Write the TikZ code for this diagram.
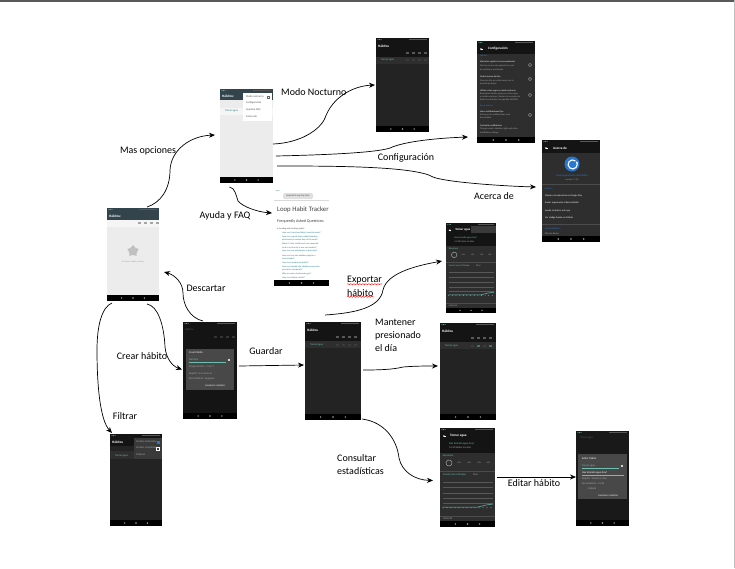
\documentclass[tikz,border=0pt]{standalone}
\usepackage{fontspec}
\setmainfont{Carlito}
\usepackage{tikz}
\usetikzlibrary{arrows.meta,calc,shapes.geometric,decorations.pathmorphing}
\definecolor{appSlate}{RGB}{52, 68, 76}
\definecolor{lightBody}{RGB}{236, 236, 236}
\definecolor{darkBody}{RGB}{35, 35, 35}
\definecolor{darkBar}{RGB}{20, 20, 20}
\definecolor{panelGrey}{RGB}{46, 46, 46}
\definecolor{menuGrey}{RGB}{58, 58, 58}
\definecolor{dialogGrey}{RGB}{72, 72, 72}
\definecolor{accentTeal}{RGB}{110, 190, 175}
\definecolor{accentBlue}{RGB}{40, 120, 210}
\definecolor{linkTeal}{RGB}{30, 120, 130}
\definecolor{softGrey}{RGB}{165, 165, 165}
\definecolor{dimGrey}{RGB}{88, 88, 88}
\tikzset{
  screen/.style={anchor=north west, inner sep=0pt, outer sep=0pt},
  uitext/.style={font=\fontsize{2.7}{3}\selectfont, inner sep=0pt, anchor=west},
  uititle/.style={font=\fontsize{3.4}{4}\selectfont\bfseries, inner sep=0pt, anchor=west, text=white},
  flow/.style={-{Stealth[length=6pt,width=5pt]}, line width=0.7pt, black},
  backarrow/.style={-{Stealth[length=1.5pt,width=2pt]}, white, line width=0.4pt},
  caption/.style={font=\fontsize{10}{13}\selectfont, inner sep=0pt, align=left},
  spell/.style={red, line width=0.4pt, decorate, decoration={snake, amplitude=0.6pt, segment length=3pt}}
}
\newcommand{\phonebase}[4]{%
  \node[screen, fill=#4, minimum width=#2pt, minimum height=#3pt] (#1) at (0,0) {};
  \fill[black] (0,{#3-6}) rectangle (#2,#3);
  \foreach \k in {0.28,0.5,0.72} \fill[softGrey] ({#2*\k},{#3-3}) circle (0.8);
}
\newcommand{\statusline}[1]{%
  \foreach \k in {2,3.5,5} \fill[accentTeal] (\k,1.6) circle (0.5);
  \fill[dimGrey] ({#1-20},1.1) rectangle ({#1-2},2.1);
}
\newcommand{\rowmarks}[3]{%
  \foreach \m in {0,1,2,3} \fill[#3] ({#1+\m*6},{#2-1}) rectangle ({#1+\m*6+2.5},{#2+1});
}
\begin{document}
\begin{tikzpicture}[x=1pt,y=-1pt]
  \useasboundingbox (0,0) rectangle (735,568);
  \fill[white] (0,0) rectangle (735,568);
  \fill[black!65] (0,0) rectangle (735,2);
  \fill[black!25] (734,0) rectangle (735,568);

  % 1. Empty list
  \begin{scope}[shift={(107,208)}]
  \phonebase{home}{52}{93}{lightBody}
  \fill[appSlate] (0,0) rectangle (52,12);
  \statusline{52}
  \fill[white!96!black] (0,12) rectangle (52,19);
  \node[uititle] (homeTitle) at (2,8) {Hábitos:};
  \rowmarks{31}{15}{softGrey}
  \node[star, star points=5, fill=softGrey!70, minimum size=12pt, inner sep=0pt] (homeStar) at (26,43) {};
  \node[uitext, anchor=center, text=softGrey, font=\fontsize{2.2}{3}\selectfont] (homeEmpty) at (26,54) {No tienes hábitos activos};
  \end{scope}

  % 2. Overflow menu
  \begin{scope}[shift={(220,89)}]
  \phonebase{menu}{53}{94}{lightBody}
  \fill[appSlate] (0,0) rectangle (53,11);
  \statusline{53}
  \fill[white!96!black] (0,19) rectangle (53,26);
  \node[uititle] (menuTitle) at (2,7) {Hábitos:};
  \node[uitext, text=linkTeal] (menuRow) at (5,22) {Tomar agua};
  \fill[white] (23,4) rectangle (52,32);
  \foreach \y/\t [count=\i] in {8/Modo nocturno,14/Configuración,21/Ayuda \& FAQ,28/Acerca de}
    \node[uitext, text=black!70] (menuItem\i) at (26,\y) {\t};
  \draw[black!60, line width=0.3pt] (47,7) rectangle (49.5,9.5);
  \end{scope}

  % 3. Help page
  \begin{scope}[shift={(274,189)}]
  \phonebase{web}{55}{97}{white}
  \foreach \k in {2,3.5,5} \fill[accentTeal] (\k,1.6) circle (0.5);
  \fill[black!12, rounded corners=1.5pt] (9,4) rectangle (39,10);
  \draw[black!15, line width=0.3pt] (0,11.5) -- (55,11.5);
  \node[uitext, text=black!70, font=\fontsize{2.4}{3}\selectfont] (webUrl) at (12,7) {loophabits.org/faq.html};
  \node[uitext, text=black!75, font=\fontsize{6.8}{7}\selectfont] (webTitle) at (3,21) {Loop Habit Tracker};
  \node[uitext, text=black!75, font=\fontsize{4.1}{5}\selectfont] (webHead) at (3,32) {Frequently Asked Questions};
  \node[uitext, text=black!70, font=\fontsize{2.2}{3}\selectfont] (webTopic) at (3,40) {• Creating and checking habits};
  \foreach \y/\t [count=\i] in {44/How can I track bad habits I want to break?,
      48/How can I specify that a habit should be,51/performed on certain days of the week?,
      55/What if I miss a habit and I am supposed,59/to do it on the day it was not checked?,
      62/How can I see checkmarks in past days?,67/How can I see the statistics page for a,
      70/certain habit?,74/How can I reorder the habits?,78/How can I disable the vibration every time,
      81/you click a checkmark?,85/Why are some checkmarks grey?,89/How can I delete a habit?}
    \node[uitext, text=linkTeal, font=\fontsize{2.2}{3}\selectfont] (webLine\i) at (8,\y) {\t};
  \end{scope}

  % 4. Night mode
  \begin{scope}[shift={(376,38)}]
  \phonebase{night}{53}{94}{darkBody}
  \fill[darkBar] (0,0) rectangle (53,19);
  \statusline{53}
  \fill[panelGrey] (0,19) rectangle (53,26);
  \node[uititle] (nightTitle) at (2,8) {Hábitos};
  \rowmarks{30}{15}{dimGrey}
  \rowmarks{30}{22}{panelGrey!70!dimGrey}
  \node[uitext, text=accentTeal] (nightRow) at (5,22) {Tomar agua};
  \end{scope}

  % 5. Settings
  \begin{scope}[shift={(477,41)}]
  \phonebase{config}{58}{102}{panelGrey}
  \fill[darkBar] (0,0) rectangle (58,13);
  \statusline{58}
  \draw[backarrow] (6,8) -- (3,8);
  \node[uititle] (configTitle) at (11,8) {Configuración};
  \foreach \y/\c/\t [count=\i] in {15/accentBlue/Interfaz,
      21/white/Marca los registros con una pulsación,25/softGrey/Marca con una sola pulsación en vez,29/softGrey/de mantener presionado,
      36/white/Orden inverso de días,40/softGrey/Muestra días en orden inverso en la,43/softGrey/pantalla principal,
      50/white/Utilizar color negro en modo nocturno,53/softGrey/Reemplaza fondos grises por color negro,56/softGrey/en modo nocturno. Reduce el consumo de,59/softGrey/batería en móviles con pantalla AMOLED,
      65/accentBlue/Recordatorios,
      71/white/Hacer notificaciones fijas,74/softGrey/Evita que las notificaciones sean,77/softGrey/descartadas,
      85/white/Customize notifications,88/softGrey/Change sound{,} vibration{,} light and other,92/softGrey/notification settings}
    \node[uitext, text=\c, font=\fontsize{2.3}{3}\selectfont] (configItem\i) at (3,\y) {\t};
  \foreach \y in {24,38,54,74} \draw[softGrey, line width=0.4pt] (53,\y) circle (1.6);
  \end{scope}

  % 6. About
  \begin{scope}[shift={(542,140)}]
  \phonebase{about}{58}{102}{panelGrey}
  \fill[darkBar] (0,0) rectangle (58,13);
  \statusline{58}
  \draw[backarrow] (6,8) -- (3,8);
  \node[uititle] (aboutTitle) at (11,8) {Acerca de};
  \fill[accentBlue] (30,24) circle (7.5);
  \draw[white, line width=1.1pt, -{Stealth[length=2pt,width=2.5pt]}] (33.5,21) arc (-50:-400:4.5);
  \node[uitext, anchor=center, text=accentBlue] (aboutName) at (30,36) {Loop Seguimiento de Hábitos};
  \node[uitext, anchor=center, text=softGrey, font=\fontsize{2.2}{3}\selectfont] (aboutVersion) at (30,40) {versión 1.7.10};
  \draw[black!70, line width=0.3pt] (0,44) -- (58,44) (0,84) -- (58,84);
  \foreach \y/\c/\t [count=\i] in {49/accentBlue/Enlaces,56/white/Valorar esta aplicación en Google Play,
      63/white/Enviar sugerencias al desarrollador,71/white/Ayude a traducir esta app,
      78/white/Ver código fuente en GitHub,89/accentBlue/Desarrolladores,94/softGrey/Álinson Xavier}
    \node[uitext, text=\c, font=\fontsize{2.4}{3}\selectfont] (aboutItem\i) at (3,\y) {\t};
  \end{scope}

  % 7. Statistics, top
  \begin{scope}[shift={(446,223)}, scale=0.91, transform shape]
  \phonebase{statsTop}{55}{99}{panelGrey}
  \fill[darkBar] (0,0) rectangle (55,25);
  \statusline{55}
  \draw[backarrow] (6,8) -- (3,8);
  \node[uititle] (topTitle) at (10,7.5) {Tomar agua};
  \fill[menuGrey] (27,3.5) rectangle (55,11);
  \node[uitext, text=accentTeal] (topAsk) at (9,16) {Has tomado agua hoy?};
  \node[uitext, text=softGrey] (topWhen) at (9,20) {14:30 todos los días};
  \node[uitext, text=accentTeal] (topSum) at (3,28) {Resumen};
  \draw[softGrey, line width=0.5pt] (9,35) circle (3);
  \foreach \x in {17,27,37,46} \node[uitext, text=softGrey, font=\fontsize{2.2}{3}\selectfont] (topNum\x) at (\x,35) {+0\%};
  \draw[black!70, line width=0.3pt] (0,43) -- (55,43) (0,88) -- (55,88);
  \node[uitext, text=accentTeal] (topForce) at (3,47) {Fuerza con el tiempo};
  \node[uitext, text=softGrey] (topMes) at (33,47) {Mes};
  \foreach \y in {54,59,65,70,75} \draw[dimGrey, line width=0.15pt] (3,\y) -- (53,\y);
  \draw[accentTeal, line width=0.5pt] (3,79) -- (38,79) -- (46,77) -- (53,76);
  \foreach \x in {3,7,...,51} \fill[accentTeal] (\x,79.5) circle (0.5);
  \node[uitext, text=softGrey] (topHist) at (3,91) {Historial};
  \end{scope}

  % 8. New habit dialog
  \begin{scope}[shift={(183,322)}]
  \phonebase{dialog}{54}{97}{darkBar}
  \statusline{54}
  \node[uitext, text=dimGrey] (dialogTitle) at (2,8) {Hábitos};
  \rowmarks{31}{15}{dimGrey!60!black}
  \fill[dialogGrey] (2.5,27) rectangle (51,68);
  \node[uitext, text=white] (dialogHead) at (6,31) {Crear hábito};
  \node[uitext, text=accentTeal] (dialogName) at (6,38) {Nombre};
  \draw[accentTeal, line width=0.2pt] (6,40) -- (43,40);
  \fill[white] (46,38) circle (1.2);
  \foreach \y/\t [count=\i] in {45/Pregunta (Has \ldots\ hoy?),52/Repetir: Una tarea al,57/Recordatorio: Apagado}
    \node[uitext, text=softGrey] (dialogRow\i) at (6,\y) {\t};
  \node[uitext, text=white, font=\fontsize{2.2}{3}\selectfont] (dialogBtn) at (22,64) {CANCELAR\ \ GUARDAR};
  \end{scope}

  % 9. Habit saved
  \begin{scope}[shift={(305,322)}]
  \phonebase{saved}{56}{98}{darkBody}
  \fill[darkBar] (0,0) rectangle (56,19);
  \statusline{56}
  \fill[panelGrey] (0,19) rectangle (56,26);
  \node[uititle] (savedTitle) at (2,8) {Hábitos};
  \rowmarks{31}{15}{dimGrey}
  \rowmarks{31}{23}{panelGrey!70!dimGrey}
  \node[uitext, text=accentTeal] (savedRow) at (5,23) {Tomar agua};
  \end{scope}

  % 10. Day pressed
  \begin{scope}[shift={(440,323)}]
  \phonebase{marked}{56}{97}{darkBody}
  \fill[darkBar] (0,0) rectangle (56,19);
  \statusline{56}
  \fill[panelGrey] (0,19) rectangle (56,26);
  \node[uititle] (markedTitle) at (2,8) {Hábitos};
  \rowmarks{31}{15}{dimGrey}
  \node[uitext, text=accentTeal] (markedRow) at (5,23) {Tomar agua};
  \rowmarks{31}{23}{panelGrey!70!dimGrey}
  \foreach \x in {37,49} \fill[accentTeal!60!black] (\x,22) rectangle (\x+2.5,24);
  \end{scope}

  % 11. Filter menu
  \begin{scope}[shift={(110,434)}]
  \phonebase{filter}{52}{92}{darkBody}
  \fill[darkBar] (0,0) rectangle (52,12);
  \statusline{52}
  \fill[panelGrey] (0,17) rectangle (24,25);
  \node[uititle] (filterTitle) at (2,8) {Hábitos};
  \node[uitext, text=accentTeal] (filterRow) at (5,22) {Tomar agua};
  \fill[menuGrey] (24,4) rectangle (52,25);
  \foreach \y/\t [count=\i] in {8/Ocultar archivados,14/Ocultar completos,21/Ordenar}
    \node[uitext, text=softGrey] (filterItem\i) at (26,\y) {\t};
  \fill[accentBlue] (46.5,6.5) rectangle (49.5,9.5);
  \draw[white, line width=0.4pt] (46.5,13) rectangle (49.5,16);
  \end{scope}

  % 12. Statistics, bottom
  \begin{scope}[shift={(440,428)}]
  \phonebase{statsBot}{55}{99}{panelGrey}
  \fill[darkBar] (0,0) rectangle (55,25);
  \statusline{55}
  \draw[backarrow] (6,8) -- (3,8);
  \node[uititle] (botTitle) at (10,7.5) {Tomar agua};
  \node[uitext, text=accentTeal] (botAsk) at (9,16) {Has tomado agua hoy?};
  \node[uitext, text=softGrey] (botWhen) at (9,20) {14:30 todos los días};
  \node[uitext, text=accentTeal] (botSum) at (3,28) {Resumen};
  \draw[softGrey, line width=0.5pt] (9,35) circle (3);
  \foreach \x in {17,27,37,46} \node[uitext, text=softGrey, font=\fontsize{2.2}{3}\selectfont] (botNum\x) at (\x,35) {+0\%};
  \draw[black!70, line width=0.3pt] (0,43) -- (55,43) (0,88) -- (55,88);
  \node[uitext, text=accentTeal] (botForce) at (3,47) {Fuerza con el tiempo};
  \node[uitext, text=softGrey] (botMes) at (33,47) {Mes};
  \foreach \y in {54,59,65,70,75} \draw[dimGrey, line width=0.15pt] (3,\y) -- (53,\y);
  \draw[accentTeal, line width=0.5pt] (3,79) -- (38,79) -- (46,77) -- (53,76);
  \foreach \x in {3,7,...,51} \fill[accentTeal] (\x,79.5) circle (0.5);
  \node[uitext, text=softGrey] (botHist) at (3,91) {Historial};
  \end{scope}

  % 13. Edit dialog
  \begin{scope}[shift={(576,431)}]
  \phonebase{edit}{53}{95}{darkBar!80!panelGrey}
  \statusline{53}
  \node[uitext, text=dimGrey] (editTitle) at (4,7) {Tomar agua};
  \fill[dialogGrey] (1.5,23) rectangle (51,68);
  \node[uitext, text=white] (editHead) at (6,28) {Editar hábito};
  \node[uitext, text=accentTeal] (editName) at (6,35) {Tomar agua};
  \draw[accentTeal, line width=0.2pt] (6,37) -- (43,37);
  \fill[white] (46,35) circle (1.2);
  \node[uitext, text=white] (editAsk) at (6,42) {Has tomado agua hoy?};
  \draw[softGrey, line width=0.2pt] (6,44) -- (48,44);
  \foreach \y/\t [count=\i] in {48/Repetir: Todos los días,53/Recordatorio: 14:30,58/\quad\quad\ Sábado}
    \node[uitext, text=softGrey] (editRow\i) at (6,\y) {\t};
  \node[uitext, text=white, font=\fontsize{2.2}{3}\selectfont] (editBtn) at (22,65) {CANCELAR\ \ GUARDAR};
  \end{scope}

  % Connectors
  \draw[flow] ($(home.north)+(14,-1)$) .. controls (160,203) and (170,190) .. (170,170)
    .. controls (171,150) and (190,136) .. ($(menu.west)+(-5,-1)$);
  \draw[flow] ($(menu.east)+(0,8)$) .. controls (300,143) and (320,130) .. (325,118)
    .. controls (332,98) and (352,86) .. ($(night.west)+(-1,0)$);
  \draw[flow] ($(menu.east)+(3,20)$) .. controls (320,155) and (375,153) .. (390,148)
    .. controls (405,141) and (440,138) .. ($(config.south west)+(-9,-6)$);
  \draw[flow] ($(menu.east)+(4,30)$) .. controls (330,166) and (415,166) .. (433,177)
    .. controls (445,182) and (500,186) .. ($(about.west)+(-6,-4)$);
  \draw[flow] ($(menu.south)+(-17,4)$) .. controls (235,188) and (236,195) .. (238,201)
    .. controls (243,207) and (258,212) .. ($(web.west)+(-2,-24.5)$);
  \draw[flow] ($(dialog.north)+(-7,-1)$) .. controls (190,318) and (183,305) .. (183,293)
    .. controls (183,283) and (175,275) .. ($(home.east)+(5,17.5)$);
  \draw[flow] ($(home.south)+(14,3)$) .. controls (158,306) and (164,325) .. (165,347)
    .. controls (166,358) and (172,366) .. ($(dialog.west)+(-1,-1)$);
  \draw[flow] ($(home.south)+(-21,2)$) .. controls (102,307) and (97,325) .. (97,350)
    .. controls (97,385) and (100,420) .. ($(filter.north west)+(2,-1)$);
  \draw[flow] ($(dialog.east)+(2,-4.5)$) -- ($(saved.west)+(-1,-6)$);
  \draw[flow] ($(saved.north)+(-8,-7)$) .. controls (355,313) and (380,308) .. (383,290)
    .. controls (387,272) and (420,265) .. ($(statsTop.west)+(-4,-7)$);
  \draw[flow] ($(saved.east)+(2,-1)$) .. controls (385,370) and (395,369) .. (403,367)
    .. controls (415,366) and (425,366) .. ($(marked.west)+(-2,-5.5)$);
  \draw[flow] ($(saved.south east)+(1,-1)$) .. controls (385,422) and (397,440) .. (399,458)
    .. controls (402,472) and (415,480) .. ($(statsBot.west)+(-7,3)$);
  \draw[flow] ($(statsBot.east)+(2,-0.5)$) -- ($(edit.west)+(0,-1.5)$);

  % Labels
  \node[caption] (masLabel) at (148,151) {Mas opciones};
  \node[caption, anchor=west] (modoLabel) at (281,92) {Modo Nocturno};
  \node[caption] (configLabel) at (406,158) {Configuración};
  \node[caption] (acercaLabel) at (494,196) {Acerca de};
  \node[caption] (ayudaLabel) at (225,216) {Ayuda y FAQ};
  \node[caption] (descartarLabel) at (206,288) {Descartar};
  \node[caption] (crearLabel) at (142,356) {Crear hábito};
  \node[caption] (filtrarLabel) at (125,416) {Filtrar};
  \node[caption] (guardarLabel) at (266,351) {Guardar};
  \node[caption, anchor=west] (exportarLabel) at (347,280) {Exportar};
  \node[caption, anchor=west] (habitoLabel) at (347,293) {hábito};
  \draw[spell] (exportarLabel.south west) -- (exportarLabel.south east);
  \draw[spell] (habitoLabel.south west) -- (habitoLabel.south east);
  \node[caption, anchor=west] (mantenerLabel) at (375,335) {Mantener\\presionado\\el día};
  \node[caption, anchor=west] (consultarLabel) at (337,465) {Consultar\\estadísticas};
  \node[caption] (editarLabel) at (534,483) {Editar hábito};
\end{tikzpicture}
\end{document}
